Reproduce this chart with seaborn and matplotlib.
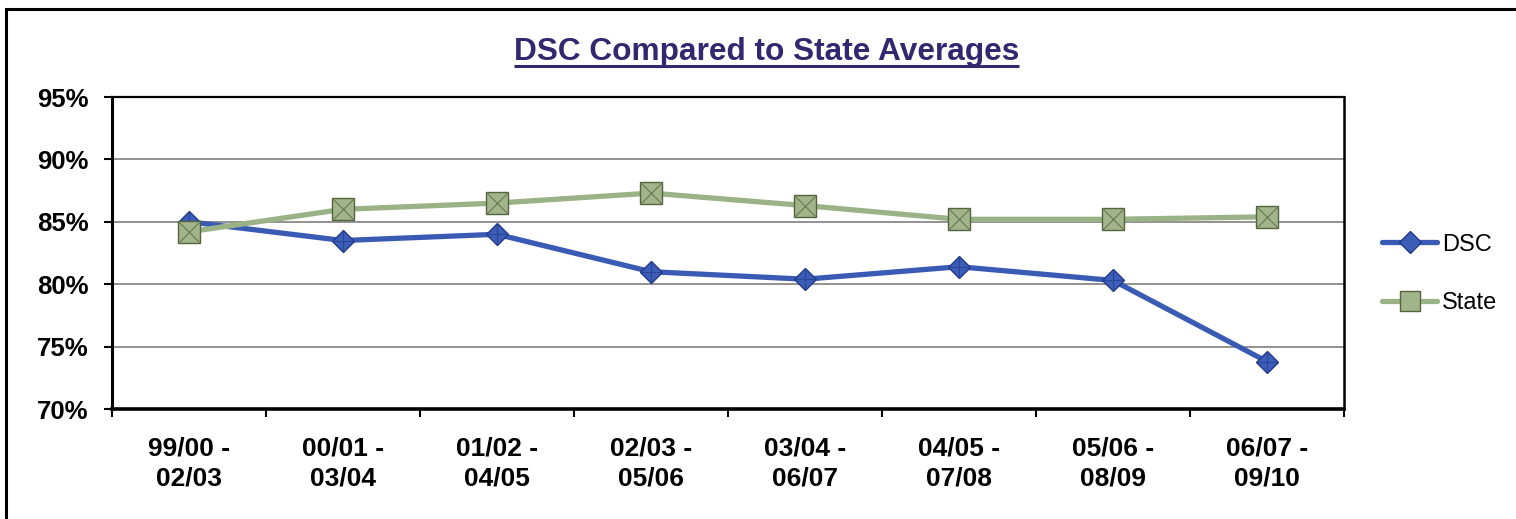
import numpy as np
import pandas as pd
import matplotlib
matplotlib.use("Agg")
import matplotlib.pyplot as plt
import seaborn as sns
from matplotlib.lines import Line2D
from matplotlib.patches import Rectangle

# ---- data ----
periods = ["99/00 -\n02/03", "00/01 -\n03/04", "01/02 -\n04/05", "02/03 -\n05/06",
           "03/04 -\n06/07", "04/05 -\n07/08", "05/06 -\n08/09", "06/07 -\n09/10"]
dsc = [85.0, 83.5, 84.0, 81.0, 80.4, 81.4, 80.3, 73.8]
state = [84.2, 86.0, 86.5, 87.3, 86.3, 85.2, 85.2, 85.4]
y_ticks = [70, 75, 80, 85, 90, 95]
title_text = "DSC Compared to State Averages"

sns.set_theme(style="white")
plt.rcParams["font.family"] = ["Liberation Sans", "DejaVu Sans"]
plt.rcParams["text.color"] = "black"

W, H = 1516, 519
fig = plt.figure(figsize=(W / 100, H / 100), dpi=100)
fig.patch.set_facecolor("white")
ax = fig.add_axes([112 / W, 110 / H, 1232 / W, 312 / H])

pos = np.arange(len(periods))
df_dsc = pd.DataFrame({"pos": pos, "value": dsc})
df_state = pd.DataFrame({"pos": pos, "value": state})

blue = "#3A5BB4"
green = "#9BB286"
d_face, d_edge = "#3C5EB8", "#22398A"
s_face, s_edge = "#A2B48A", "#56633F"
LW = 3.8
DMS, SMS = 11.5, 15.5

sns.lineplot(data=df_dsc, x="pos", y="value", ax=ax, color=blue, linewidth=LW,
             marker="D", markersize=DMS, markerfacecolor=d_face,
             markeredgecolor=d_edge, markeredgewidth=1.0, zorder=3)
# facet lines on the diamonds
sns.lineplot(data=df_dsc, x="pos", y="value", ax=ax, linestyle="none",
             marker="+", markersize=DMS * 1.38, markeredgecolor="#2A4696",
             markeredgewidth=0.8, zorder=3.5)
sns.lineplot(data=df_state, x="pos", y="value", ax=ax, color=green, linewidth=LW,
             marker="s", markersize=SMS, markerfacecolor=s_face,
             markeredgecolor=s_edge, markeredgewidth=1.0, zorder=4)
# bevel lines on the squares
sns.lineplot(data=df_state, x="pos", y="value", ax=ax, linestyle="none",
             marker="x", markersize=SMS * 0.92, markeredgecolor="#6A7752",
             markeredgewidth=0.8, zorder=4.5)

ax.set_xlim(-0.5, len(periods) - 0.5)
ax.set_ylim(70, 95)
ax.set_yticks(y_ticks)
ax.set_yticklabels([f"{v}%" for v in y_ticks], fontsize=18.5, fontweight="bold")
ax.set_xticks(pos)
ax.set_xticklabels(periods, fontsize=19, fontweight="bold", linespacing=1.3)
ax.set_xticks(np.arange(-0.5, len(periods), 1.0), minor=True)
ax.tick_params(axis="x", which="major", length=0, pad=20, colors="black")
ax.tick_params(axis="x", which="minor", length=6, width=1.5, direction="out", bottom=True, color="black")
ax.tick_params(axis="y", which="major", length=5.5, width=1.5, direction="out", left=True, pad=11.5, colors="black")
ax.set_xlabel("")
ax.set_ylabel("")

ax.yaxis.grid(True, color="#7F7F7F", linewidth=1.2)
ax.xaxis.grid(False)
ax.set_axisbelow(True)
for side, lw in (("left", 2.2), ("bottom", 2.6), ("top", 1.6), ("right", 1.8)):
    ax.spines[side].set_visible(True)
    ax.spines[side].set_color("black")
    ax.spines[side].set_linewidth(lw)

# legend
handles = [
    Line2D([], [], color=blue, linewidth=LW, marker="D", markersize=DMS,
           markerfacecolor=d_face, markeredgecolor=d_edge, markeredgewidth=1.0),
    Line2D([], [], color=green, linewidth=LW, marker="s", markersize=SMS * 0.95,
           markerfacecolor=s_face, markeredgecolor=s_edge, markeredgewidth=1.0),
]
leg = fig.legend(handles, ["DSC", "State"], loc="center left",
                 bbox_to_anchor=(1382 / W, 1 - 274 / H), frameon=False,
                 fontsize=17, handlelength=2.35, handletextpad=0.2,
                 labelspacing=1.55, borderpad=0, borderaxespad=0)
for txt in leg.get_texts():
    txt.set_color("black")

# title with underline
title_color = "#32286F"
t = fig.text(766.5 / W, 1 - 60 / H, title_text, ha="center", va="baseline",
             fontsize=22.8, fontweight="bold", color=title_color)
fig.canvas.draw()
bb = t.get_window_extent(renderer=fig.canvas.get_renderer())
uy = (H - 66) / H
fig.add_artist(Line2D([bb.x0 / W, bb.x1 / W], [uy, uy], transform=fig.transFigure,
                      color=title_color, linewidth=2.2, solid_capstyle="butt"))

# outer frame (extends beyond the right and bottom edges)
fig.add_artist(Rectangle((6 / W, -0.5), 2.0, 1 - 9 / H + 0.5, transform=fig.transFigure,
                         fill=False, edgecolor="black", linewidth=2.2, clip_on=False))

fig.savefig("out.png", dpi=100, facecolor="white")
